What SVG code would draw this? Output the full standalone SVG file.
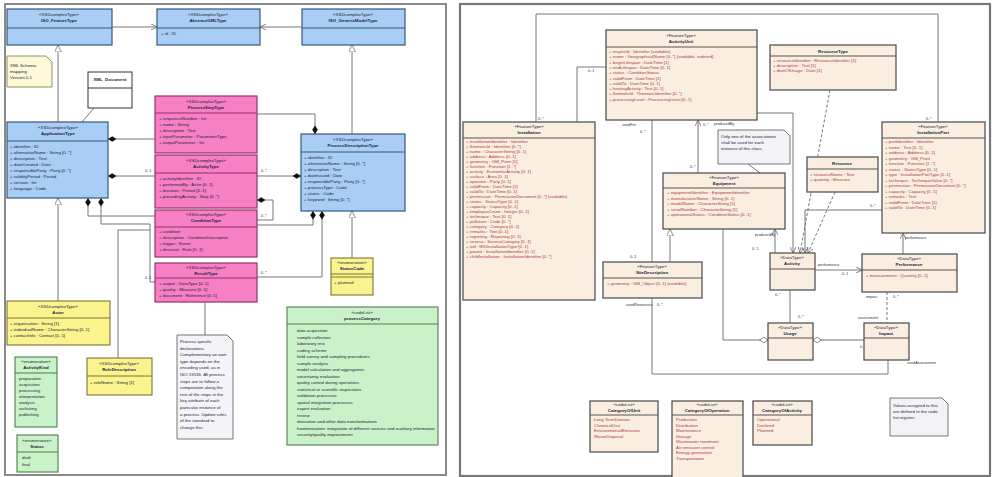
<svg xmlns="http://www.w3.org/2000/svg" width="993" height="477" viewBox="0 0 993 477">
<style>
text{font-family:"Liberation Sans",Arial,sans-serif;font-size:4.4px;fill:#1a2340}
.h{text-anchor:middle}
.b{font-weight:bold}
.r{fill:#b03a3a}
.lb{font-size:3.8px;fill:#333}
.blue{fill:#a9cdf4;stroke:#36587d;stroke-width:1.2}
.pink{fill:#f77fc4;stroke:#9a2f6c;stroke-width:1.2}
.yel{fill:#fbf48e;stroke:#7d7636;stroke-width:1.1}
.grn{fill:#c9f2c9;stroke:#4f7d4f;stroke-width:1.1}
.bei{fill:#f9eedf;stroke:#555;stroke-width:1.3}
.div{stroke-width:1}
.c{fill:none;stroke:#777;stroke-width:1}
.cd{fill:none;stroke:#777;stroke-width:1;stroke-dasharray:3 2}
.note{fill:#f3f2f7;stroke:#666;stroke-width:0.9}
</style>
<defs>
<marker id="tri" viewBox="0 0 10 10" refX="10" refY="5" markerWidth="7" markerHeight="7" orient="auto" markerUnits="userSpaceOnUse"><path d="M0,0 L10,5 L0,10 z" fill="#fff" stroke="#666" stroke-width="1"/></marker>
<marker id="dia" viewBox="0 0 12 10" refX="0" refY="5" markerWidth="9" markerHeight="7" orient="auto" markerUnits="userSpaceOnUse"><path d="M0,5 L6,1 L12,5 L6,9 z" fill="#111"/></marker>
<marker id="hdia" viewBox="0 0 12 10" refX="0" refY="5" markerWidth="9" markerHeight="7" orient="auto" markerUnits="userSpaceOnUse"><path d="M0,5 L6,1 L12,5 L6,9 z" fill="#fff" stroke="#555" stroke-width="1"/></marker>
<marker id="arr" viewBox="0 0 10 10" refX="10" refY="5" markerWidth="6" markerHeight="6" orient="auto" markerUnits="userSpaceOnUse"><path d="M0,0 L10,5 L0,10" fill="none" stroke="#555" stroke-width="1.2"/></marker>
</defs>
<rect width="993" height="477" fill="#fff"/>
<!-- panel frames -->
<rect x="5" y="4" width="441" height="471" fill="#fff" stroke="#8a8a8a" stroke-width="2"/>
<rect x="460" y="4" width="530" height="472" fill="#fff" stroke="#777" stroke-width="2.2"/>

<g id="connectors">
<!-- left panel -->
<path class="c" d="M112,27 H157" marker-end="url(#arr)"/>
<path class="c" d="M302,27 H260" marker-end="url(#arr)"/>
<path class="c" d="M58,122 V45" marker-end="url(#tri)"/>
<path class="c" d="M352,134 V45" marker-end="url(#tri)"/>
<path class="c" d="M58,301 V198" marker-end="url(#tri)"/>
<path class="c" d="M352,258 V211" marker-end="url(#tri)"/>
<path class="c" d="M94,108 L82,122"/>
<path class="c" d="M108,139 H155" marker-start="url(#dia)"/>
<path class="c" d="M108,176 H155" marker-start="url(#dia)"/>
<path class="c" d="M88,198 V216 H155" marker-start="url(#dia)"/>
<path class="c" d="M101,198 V224 H150 V282 H155" marker-start="url(#dia)"/>
<path class="c" d="M118,358 V230 H150"/>
<path class="c" d="M315,134 V114 H257" marker-start="url(#dia)"/>
<path class="c" d="M301,176 H257" marker-start="url(#dia)"/>
<path class="c" d="M257,200 H273 V220 H257" marker-start="url(#dia)"/>
<path class="c" d="M313,211 V225 H257" marker-start="url(#dia)"/>
<path class="c" d="M322,211 V277 H257" marker-start="url(#dia)"/>
<path class="c" d="M205,302 V335"/>
<text class="lb" x="145" y="172">0..1</text>
<text class="lb" x="261" y="172">0..*</text>
<text class="lb" x="261" y="217">0..*</text>
<text class="lb" x="145" y="279">0..1</text>
<text class="lb" x="261" y="274">0..*</text>
<!-- right panel -->
<path class="c" d="M536,122 V14 H938 V122"/>
<path class="c" d="M577,122 V67 H606"/>
<path class="c" d="M757,113 H793 V253" marker-end="url(#arr)"/>
<path class="c" d="M652,120 V262"/>
<path class="c" d="M698,173 V120" marker-end="url(#arr)"/>
<path class="c" d="M670,262 V229" marker-end="url(#tri)"/>
<path class="c" d="M768,340 H723 V229" marker-start="url(#hdia)"/>
<path class="c" d="M775,253 V229" marker-end="url(#arr)"/>
<path class="c" d="M652,298 V374 H888 V360"/>
<path class="c" d="M790,290 V323"/>
<path class="c" d="M815,270 H862" marker-end="url(#arr)"/>
<path class="c" d="M903,254 V233" marker-end="url(#arr)"/>
<path class="cd" d="M887,292 V323"/>
<path class="c" d="M813,340 H864" marker-start="url(#hdia)"/>
<path class="cd" d="M830,90 L800,253" marker-end="url(#arr)"/>
<path class="cd" d="M835,192 L808,253" marker-end="url(#arr)"/>
<path class="c" d="M882,210 H805 V253" marker-end="url(#arr)"/>
<path class="c" d="M748,164 L760,173"/>
<text class="lb" x="538" y="120">0..*</text>
<text class="lb" x="926" y="120">0..*</text>
<text class="lb" x="588" y="72">0..1</text>
<text class="lb" x="622" y="126">usedFor</text>
<text class="lb" x="640" y="133">0..*</text>
<text class="lb" x="690" y="168">0..*</text>
<text class="lb" x="703" y="126">0..*</text>
<text class="lb" x="714" y="125">producedBy</text>
<text class="lb" x="630" y="258">0..1</text>
<text class="lb" x="626" y="306">usedResources</text>
<text class="lb" x="657" y="306">0..*</text>
<text class="lb" x="755" y="236">producedBy</text>
<text class="lb" x="752" y="250">0..1</text>
<text class="lb" x="818" y="266">performance</text>
<text class="lb" x="842" y="275">0..1</text>
<text class="lb" x="775" y="296">0..*</text>
<text class="lb" x="798" y="318">0..*</text>
<text class="lb" x="866" y="298">impact</text>
<text class="lb" x="893" y="298">0..*</text>
<text class="lb" x="858" y="319">assessment</text>
<text class="lb" x="860" y="348">0..*</text>
<text class="lb" x="907" y="364">usedAssessment</text>
<text class="lb" x="905" y="239">performance</text>
<text class="lb" x="870" y="207">0..*</text>
</g>

<!-- LEFT PANEL NODES -->
<g id="blue1"><rect class="blue" x="7" y="9" width="105" height="36"/><line class="blue div" x1="7" y1="28" x2="112" y2="28"/><text class="h" x="59" y="16">«XSDcomplexType»</text><text class="h b" x="59" y="22">ISO_FeatureType</text></g>
<g id="blue2"><rect class="blue" x="157" y="9" width="103" height="36"/><line class="blue div" x1="157" y1="28" x2="260" y2="28"/><text class="h" x="208" y="16">«XSDcomplexType»</text><text class="h b" x="208" y="22">AbstractGMLType</text><text x="161" y="35">+ id : ID</text></g>
<g id="blue3"><rect class="blue" x="302" y="9" width="103" height="36"/><line class="blue div" x1="302" y1="28" x2="405" y2="28"/><text class="h" x="353" y="16">«XSDcomplexType»</text><text class="h b" x="353" y="22">ISO_GenericModelType</text></g>
<g id="note1"><path d="M7,56 H46 L52,62 V87 H7 Z" fill="#fdf8d6" stroke="#8a8450" stroke-width="0.9"/><text x="10" y="67">XML Schema</text><text x="10" y="73">mapping</text><text x="10" y="79">Version 0.1</text></g>
<g id="xmldoc"><rect x="88" y="72" width="44" height="36" fill="#fff" stroke="#333" stroke-width="1"/><line x1="88" y1="88" x2="132" y2="88" stroke="#333"/><text class="h b" x="110" y="81">XML_Document</text></g>
<g id="blue4"><rect class="blue" x="7" y="122" width="101" height="76"/><line class="blue div" x1="7" y1="141" x2="108" y2="141"/><text class="h" x="58" y="129">«XSDcomplexType»</text><text class="h b" x="58" y="135">ApplicationType</text>
<text x="10" y="148">+ identifier : ID</text><text x="10" y="154">+ alternativeName : String [0..*]</text><text x="10" y="160">+ description : Text</text><text x="10" y="166">+ dateCreated : Date</text><text x="10" y="172">+ responsibleParty : Party [0..*]</text><text x="10" y="178">+ validityPeriod : Period</text><text x="10" y="184">+ version : Int</text><text x="10" y="190">+ language : Code</text></g>
<g id="blue5"><rect class="blue" x="301" y="134" width="104" height="77"/><line class="blue div" x1="301" y1="152" x2="405" y2="152"/><text class="h" x="353" y="141">«XSDcomplexType»</text><text class="h b" x="353" y="147">ProcessDescriptionType</text>
<text x="304" y="159">+ identifier : ID</text><text x="304" y="165">+ alternativeName : String [0..*]</text><text x="304" y="171">+ description : Text</text><text x="304" y="177">+ dateIssued : Date</text><text x="304" y="183">+ responsibleParty : Party [0..*]</text><text x="304" y="189">+ processType : Code</text><text x="304" y="195">+ status : Code</text><text x="304" y="201">+ keyword : String [0..*]</text></g>
<g id="pinkA"><rect class="pink" x="155" y="96" width="102" height="57"/><line class="pink div" x1="155" y1="113" x2="257" y2="113"/><text class="h" x="206" y="103">«XSDcomplexType»</text><text class="h b" x="206" y="109">ProcessStepType</text>
<text x="159" y="120">+ sequenceNumber : Int</text><text x="159" y="126">+ name : String</text><text x="159" y="132">+ description : Text</text><text x="159" y="138">+ inputParameter : ParameterType</text><text x="159" y="144">+ outputParameter : Int</text></g>
<g id="pinkB"><rect class="pink" x="155" y="155" width="102" height="53"/><line class="pink div" x1="155" y1="173" x2="257" y2="173"/><text class="h" x="206" y="162">«XSDcomplexType»</text><text class="h b" x="206" y="168">ActivityType</text>
<text x="159" y="180">+ activityIdentifier : ID</text><text x="159" y="186">+ performedBy : Actor [0..1]</text><text x="159" y="192">+ duration : Period [0..1]</text><text x="159" y="198">+ precedingActivity : Step [0..*]</text></g>
<g id="pinkC"><rect class="pink" x="155" y="210" width="102" height="47"/><line class="pink div" x1="155" y1="227" x2="257" y2="227"/><text class="h" x="206" y="216">«XSDcomplexType»</text><text class="h b" x="206" y="222">ConditionType</text>
<text x="159" y="233">+ condition</text><text x="159" y="239">+ description : ConditionDescription</text><text x="159" y="245">+ trigger : Event</text><text x="159" y="251">+ decision : Rule [0..1]</text></g>
<g id="pinkD"><rect class="pink" x="155" y="263" width="102" height="39"/><line class="pink div" x1="155" y1="278" x2="257" y2="278"/><text class="h" x="206" y="269">«XSDcomplexType»</text><text class="h b" x="206" y="275">ResultType</text>
<text x="159" y="285">+ output : DataType [0..1]</text><text x="159" y="291">+ quality : Measure [0..1]</text><text x="159" y="297">+ document : Reference [0..1]</text></g>
<g id="yelStatus"><rect class="yel" x="331" y="258" width="42" height="37"/><line class="yel div" x1="331" y1="274" x2="373" y2="274"/><line class="yel div" x1="331" y1="277" x2="373" y2="277"/><text class="h" x="352" y="264">«enumeration»</text><text class="h b" x="352" y="270">StatusCode</text><text x="334" y="284">+ planned</text></g>
<g id="yelActor"><rect class="yel" x="7" y="301" width="103" height="44"/><line class="yel div" x1="7" y1="318" x2="110" y2="318"/><text class="h" x="58" y="308">«XSDcomplexType»</text><text class="h b" x="58" y="314">Actor</text>
<text x="10" y="325">+ organisation : String [1]</text><text x="10" y="331">+ individualName : CharacterString [0..1]</text><text x="10" y="337">+ contactInfo : Contact [0..1]</text></g>
<g id="yelRole"><rect class="yel" x="87" y="358" width="65" height="37"/><line class="yel div" x1="87" y1="376" x2="152" y2="376"/><text class="h" x="119" y="365">«XSDcomplexType»</text><text class="h b" x="119" y="371">RoleDescription</text><text x="90" y="384">+ roleName : String [1]</text></g>
<g id="grn1"><rect class="grn" x="15" y="357" width="42" height="70"/><line class="grn div" x1="15" y1="373" x2="57" y2="373"/><text class="h" x="36" y="363">«enumeration»</text><text class="h b" x="36" y="369">ActivityKind</text>
<text x="19" y="380">preparation</text><text x="19" y="386">acquisition</text><text x="19" y="392">processing</text><text x="19" y="398">interpretation</text><text x="19" y="404">analysis</text><text x="19" y="410">archiving</text><text x="19" y="416">publishing</text></g>
<g id="grn2"><rect class="grn" x="17" y="435" width="41" height="37"/><line class="grn div" x1="17" y1="452" x2="58" y2="452"/><text class="h" x="37" y="442">«enumeration»</text><text class="h b" x="37" y="448">Status</text><text x="22" y="459">draft</text><text x="22" y="466">final</text></g>
<g id="note2"><path d="M177,335 H227 L233,341 V439 H177 Z" fill="#f4f4f8" stroke="#666" stroke-width="0.9"/>
<text x="180" y="343">Process specific</text><text x="180" y="349.6">declarations.</text><text x="180" y="356.2">Complementary an own</text><text x="180" y="362.8">type depends on the</text><text x="180" y="369.4">encoding used, as in</text><text x="180" y="376">ISO 19136. All process</text><text x="180" y="382.6">steps are to follow a</text><text x="180" y="389.2">composition along the</text><text x="180" y="395.8">rest of the steps in the</text><text x="180" y="402.4">key attribute of each</text><text x="180" y="409">particular instance of</text><text x="180" y="415.6">a process. Update rules</text><text x="180" y="422.2">of the standard to</text><text x="180" y="428.8">change this.</text></g>
<g id="grnBig"><rect class="grn" x="287" y="307" width="151" height="138"/><line class="grn div" x1="287" y1="324" x2="438" y2="324"/><text class="h" x="362" y="314">«codeList»</text><text class="h b" x="362" y="320">processCategory</text>
<text x="297" y="332">data acquisition</text><text x="297" y="338.5">sample collection</text><text x="297" y="345">laboratory test</text><text x="297" y="351.5">coding scheme</text><text x="297" y="358">field survey and sampling procedures</text><text x="297" y="364.5">sample analysis</text><text x="297" y="371">model calculation and aggregation</text><text x="297" y="377.5">uncertainty evaluation</text><text x="297" y="384">quality control during operations</text><text x="297" y="390.5">statistical or scientific inspections</text><text x="297" y="397">validation processes</text><text x="297" y="403.5">spatial integration processes</text><text x="297" y="410">expert evaluation</text><text x="297" y="416.5">review</text><text x="297" y="423">derivation and other data transformations</text><text x="297" y="429.5">harmonisation: integration of different sources and auxiliary information</text><text x="297" y="436">security/quality improvement</text></g>

<!-- RIGHT PANEL NODES -->
<g id="activityUnit"><rect class="bei" x="606" y="30" width="151" height="90"/><line class="bei div" x1="606" y1="47" x2="757" y2="47"/><text class="h" x="681" y="37">«FeatureType»</text><text class="h b" x="681" y="43">ActivityUnit</text>
<text class="r" x="609" y="53">+ inspireId : Identifier {voidable}</text><text class="r" x="609" y="58.3">+ name : GeographicalName [0..*] {voidable, ordered}</text><text class="r" x="609" y="63.6">+ beginLifespan : DateTime [1]</text><text class="r" x="609" y="68.9">+ endLifespan : DateTime [0..1]</text><text class="r" x="609" y="74.2">+ status : ConditionStatus</text><text class="r" x="609" y="79.5">+ validFrom : DateTime [1]</text><text class="r" x="609" y="84.8">+ validTo : DateTime [0..1]</text><text class="r" x="609" y="90.1">+ hostingActivity : Text [0..1]</text><text class="r" x="609" y="95.4">+ thematicId : ThematicIdentifier [0..*]</text><text class="r" x="609" y="100.7">+ processingLevel : ProcessingLevel [0..1]</text></g>
<g id="resourceType"><rect class="bei" x="770" y="45" width="126" height="45"/><line class="bei div" x1="770" y1="56" x2="896" y2="56"/><text class="h b" x="833" y="53">ResourceType</text>
<text class="r" x="773" y="62">+ resourceIdentifier : ResourceIdentifier [1]</text><text class="r" x="773" y="67">+ description : Text [1]</text><text class="r" x="773" y="72">+ dateOfUsage : Date [1]</text></g>
<g id="installation"><rect class="bei" x="463" y="122" width="132" height="178"/><line class="bei div" x1="463" y1="138" x2="595" y2="138"/><text class="h" x="529" y="128">«FeatureType»</text><text class="h b" x="529" y="134">Installation</text>
<text class="r" x="466" y="143">+ installationIdentifier : Identifier</text><text class="r" x="466" y="148">+ thematicId : Identifier [0..*]</text><text class="r" x="466" y="153">+ name : CharacterString [0..1]</text><text class="r" x="466" y="158">+ address : Address [0..1]</text><text class="r" x="466" y="163">+ geometry : GM_Point [1]</text><text class="r" x="466" y="168">+ function : Function [1..*]</text><text class="r" x="466" y="173">+ activity : EconomicActivity [0..1]</text><text class="r" x="466" y="178">+ surface : Area [0..1]</text><text class="r" x="466" y="183">+ operator : Party [0..1]</text><text class="r" x="466" y="188">+ validFrom : DateTime [1]</text><text class="r" x="466" y="193">+ validTo : DateTime [0..1]</text><text class="r" x="466" y="198">+ permission : PermissionDocument [0..*] {voidable}</text><text class="r" x="466" y="203">+ status : StatusType [0..1]</text><text class="r" x="466" y="208">+ capacity : Capacity [0..1]</text><text class="r" x="466" y="213">+ employeeCount : Integer [0..1]</text><text class="r" x="466" y="218">+ technique : Text [0..1]</text><text class="r" x="466" y="223">+ pollutant : Code [0..*]</text><text class="r" x="466" y="228">+ category : Category [0..1]</text><text class="r" x="466" y="233">+ remarks : Text [0..1]</text><text class="r" x="466" y="238">+ reporting : Reporting [0..1]</text><text class="r" x="466" y="243">+ seveso : SevesoCategory [0..1]</text><text class="r" x="466" y="248">+ ied : IEDInstallationType [0..1]</text><text class="r" x="466" y="253">+ parent : InstallationIdentifier [0..1]</text><text class="r" x="466" y="258">+ childInstallation : InstallationIdentifier [0..*]</text></g>
<g id="equipment"><rect class="bei" x="663" y="173" width="122" height="56"/><line class="bei div" x1="663" y1="188" x2="785" y2="188"/><text class="h" x="724" y="179">«FeatureType»</text><text class="h b" x="724" y="185">Equipment</text>
<text class="r" x="667" y="194">+ equipmentIdentifier : EquipmentIdentifier</text><text class="r" x="667" y="199.5">+ manufacturerName : String [0..1]</text><text class="r" x="667" y="205">+ modelName : CharacterString [1]</text><text class="r" x="667" y="210.5">+ serialNumber : CharacterString [1]</text><text class="r" x="667" y="216">+ operationalStatus : ConditionStatus [0..1]</text></g>
<g id="note3"><path d="M718,130 H784 L790,136 V164 H718 Z" class="note"/><text x="721" y="138">Only one of the associations</text><text x="721" y="144">shall be used for each</text><text x="721" y="150">instance of this class.</text></g>
<g id="siteDescription"><rect class="bei" x="603" y="262" width="99" height="36"/><line class="bei div" x1="603" y1="278" x2="702" y2="278"/><text class="h" x="652" y="268">«FeatureType»</text><text class="h b" x="652" y="274">SiteDescription</text><text class="r" x="607" y="285">+ geometry : GM_Object [0..1] {voidable}</text></g>
<g id="activity"><rect class="bei" x="770" y="253" width="45" height="37"/><line class="bei div" x1="770" y1="269" x2="815" y2="269"/><text class="h" x="792" y="259">«DataType»</text><text class="h b" x="792" y="265">Activity</text></g>
<g id="usage"><rect class="bei" x="768" y="323" width="45" height="37"/><line class="bei div" x1="768" y1="338" x2="813" y2="338"/><text class="h" x="790" y="329">«DataType»</text><text class="h b" x="790" y="335">Usage</text></g>
<g id="impact"><rect class="bei" x="864" y="323" width="45" height="37"/><line class="bei div" x1="864" y1="338" x2="909" y2="338"/><text class="h" x="886" y="329">«DataType»</text><text class="h b" x="886" y="335">Impact</text></g>
<g id="installationPart"><rect class="bei" x="882" y="122" width="103" height="111"/><line class="bei div" x1="882" y1="138" x2="985" y2="138"/><text class="h" x="933" y="128">«FeatureType»</text><text class="h b" x="933" y="134">InstallationPart</text>
<text class="r" x="885" y="143">+ partIdentifier : Identifier</text><text class="r" x="885" y="148.5">+ name : Text [0..1]</text><text class="r" x="885" y="154">+ address : Address [0..1]</text><text class="r" x="885" y="159.5">+ geometry : GM_Point</text><text class="r" x="885" y="165">+ function : Function [1..*]</text><text class="r" x="885" y="170.5">+ status : StatusType [0..1]</text><text class="r" x="885" y="176">+ type : InstallationPartType [0..1]</text><text class="r" x="885" y="181.5">+ technique : TechniqueValue [0..*]</text><text class="r" x="885" y="187">+ permission : PermissionDocument [0..*]</text><text class="r" x="885" y="192.5">+ capacity : Capacity [0..1]</text><text class="r" x="885" y="198">+ remarks : Text</text><text class="r" x="885" y="203.5">+ validFrom : DateTime [1]</text><text class="r" x="885" y="209">+ validTo : DateTime [0..1]</text></g>
<g id="resource"><rect class="bei" x="807" y="157" width="71" height="35"/><line class="bei div" x1="807" y1="169" x2="878" y2="169"/><text class="h b" x="842" y="165">Resource</text><text class="r" x="810" y="176">+ resourceName : Text</text><text class="r" x="810" y="181">+ quantity : Measure</text></g>
<g id="performance"><rect class="bei" x="862" y="254" width="95" height="38"/><line class="bei div" x1="862" y1="270" x2="957" y2="270"/><text class="h" x="909" y="260">«DataType»</text><text class="h b" x="909" y="266">Performance</text><text class="r" x="866" y="277">+ measurement : Quantity [0..1]</text></g>
<g id="enum1"><rect class="bei" x="590" y="401" width="68" height="51"/><line class="bei div" x1="590" y1="415" x2="658" y2="415"/><text class="h" x="624" y="406">«codeList»</text><text class="h b" x="624" y="412">CategoryOfUnit</text><text class="r" x="594" y="421">Long TermDomain</text><text class="r" x="594" y="426.5">ChemicalUse</text><text class="r" x="594" y="432">EnvironmentalEmission</text><text class="r" x="594" y="437.5">WasteDisposal</text></g>
<g id="enum2"><rect class="bei" x="672" y="401" width="71" height="78"/><line class="bei div" x1="672" y1="415" x2="743" y2="415"/><text class="h" x="707" y="406">«codeList»</text><text class="h b" x="707" y="412">CategoryOfOperation</text><text class="r" x="676" y="421">Production</text><text class="r" x="676" y="426.5">Distribution</text><text class="r" x="676" y="432">Maintenance</text><text class="r" x="676" y="437.5">Storage</text><text class="r" x="676" y="443">Wastewater treatment</text><text class="r" x="676" y="448.5">Air emission control</text><text class="r" x="676" y="454">Energy generation</text><text class="r" x="676" y="459.5">Transportation</text></g>
<g id="enum3"><rect class="bei" x="753" y="401" width="59" height="44"/><line class="bei div" x1="753" y1="415" x2="812" y2="415"/><text class="h" x="782" y="406">«codeList»</text><text class="h b" x="782" y="412">CategoryOfActivity</text><text class="r" x="757" y="421">Operational</text><text class="r" x="757" y="426.5">Declined</text><text class="r" x="757" y="432">Planned</text></g>
<g id="note4"><path d="M890,398 H942 L948,404 V436 H890 Z" class="note"/><text x="893" y="407">Values assigned to this</text><text x="893" y="413">are defined in the code</text><text x="893" y="419">list register.</text></g>
</svg>
